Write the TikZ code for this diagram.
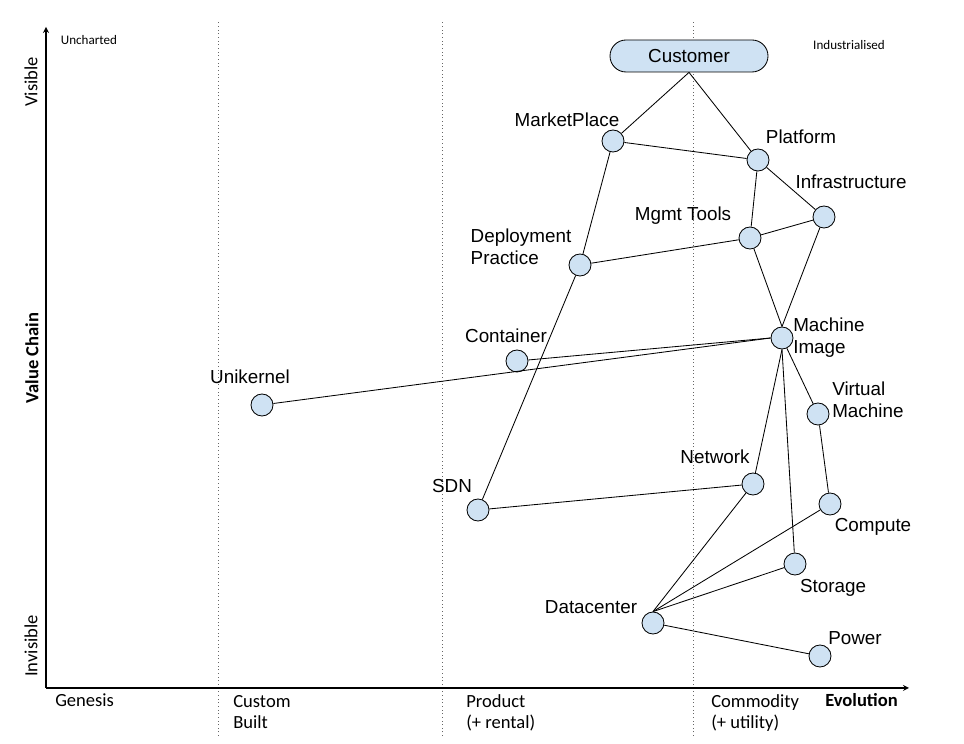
\documentclass[tikz,border=0pt]{standalone}
\usepackage{fontspec}
\setmainfont{Liberation Sans}
\newfontfamily\calfont{Carlito}
\usepackage{xcolor}
\usetikzlibrary{positioning, shapes.misc}
\definecolor{nodeblue}{HTML}{CFE2F3}

\begin{document}
\begin{tikzpicture}[
    >=stealth,
    axis/.style={line width=0.9pt, black},
    stage/.style={dotted, gray!80!black, line width=0.6pt},
    comp/.style={circle, draw, fill=nodeblue, line width=0.6pt,
        minimum size=0.55cm, inner sep=0pt},
    link/.style={line width=0.6pt},
    label/.style={
        font=\fontsize{13.4}{15.6}\selectfont,
        inner sep=0pt
    },
    axislabel/.style={
        font=\calfont\fontsize{13.2}{15.6}\selectfont,
        align=left, inner sep=0pt
    },
    corner/.style={font=\calfont\fontsize{9.3}{11}\selectfont, inner sep=0pt}
]
\useasboundingbox (0,0) rectangle (24.1,18.6);

% Stage boundaries
\draw[stage] (5.45,0.2) -- (5.45,18.05);
\draw[stage] (11.05,0.2) -- (11.05,18.05);
\draw[stage] (17.325,0.2) -- (17.325,18.05);

% Axes
\coordinate (origin) at (1.15,1.4);
\coordinate (ytop) at (1.15,17.925);
\coordinate (xend) at (22.725,1.4);
\draw[axis,->] (origin) -- (ytop);
\draw[axis,->] (origin) -- (xend);

% ---- Axis labels ----
\node[axislabel, rotate=90] (visible) at (0.775,16.55) {Visible};
\node[axislabel, rotate=90] (invisible) at (0.775,2.45) {Invisible};
\node[axislabel, rotate=90, font=\calfont\bfseries\fontsize{13.2}{15.6}\selectfont] (valuechain) at (0.8,9.65) {Value Chain};

\node[axislabel, anchor=base west] (genesis) at (1.375,0.925) {Genesis};
\node[axislabel, anchor=base west] (custom) at (5.825,0.375) {Custom\\Built};
\node[axislabel, anchor=base west] (product) at (11.65,0.375) {Product\\(+ rental)};
\node[axislabel, anchor=base west] (commodity) at (17.775,0.375) {Commodity\\(+ utility)};
\node[axislabel, anchor=base west, font=\calfont\bfseries\fontsize{13.2}{15.6}\selectfont] (evolution) at (20.625,0.925) {Evolution};

\node[corner] (uncharted) at (2.225,17.6) {Uncharted};
\node[corner] (industrialised) at (21.225,17.475) {Industrialised};

% ---- Components ----
\node[rounded rectangle, draw, fill=nodeblue, line width=0.6pt,
    minimum width=3.95cm, minimum height=0.8cm, label] (cust) at (17.225,17.2) {Customer};

\node[comp] (mp) at (15.325,15.075) {};
\node[comp] (pf) at (18.95,14.6) {};
\node[comp] (inf) at (20.6,13.175) {};
\node[comp] (mgmt) at (18.75,12.65) {};
\node[comp] (dep) at (14.5,11.975) {};
\node[comp] (mi) at (19.55,10.15) {};
\node[comp] (cont) at (12.925,9.575) {};
\node[comp] (uni) at (6.55,8.475) {};
\node[comp] (vm) at (20.45,8.25) {};
\node[comp] (net) at (18.825,6.5) {};
\node[comp] (sdn) at (11.95,5.85) {};
\node[comp] (cpu) at (20.75,6.0) {};
\node[comp] (stor) at (19.875,4.5) {};
\node[comp] (dc) at (16.325,3.025) {};
\node[comp] (pow) at (20.5,2.2) {};

% ---- Component labels ----
\node[label] (mpl) at (14.175,15.6) {MarketPlace};
\node[label] (pfl) at (20.025,15.175) {Platform};
\node[label] (infl) at (21.275,14.05) {Infrastructure};
\node[label] (mgmtl) at (17.075,13.2) {Mgmt Tools};
\node[label, align=left] (depl) at (13.025,12.425) {Deployment\\Practice};
\node[label] (contl) at (12.65,10.2) {Container};
\node[label] (unil) at (6.25,9.175) {Unikernel};
\node[label, align=left, anchor=west] (mil) at (19.825,10.15) {Machine\\Image};
\node[label, align=left, anchor=west] (vml) at (20.8,8.6) {Virtual\\Machine};
\node[label] (netl) at (17.875,7.175) {Network};
\node[label] (sdnl) at (11.3,6.45) {SDN};
\node[label] (cpul) at (21.825,5.425) {Compute};
\node[label] (storl) at (20.825,3.9) {Storage};
\node[label] (dcl) at (14.775,3.425) {Datacenter};
\node[label] (powl) at (21.375,2.65) {Power};

% ---- Links ----
\draw[link] (cust.south) -- (mp);
\draw[link] (cust.south) -- (pf);
\draw[link] (mp) -- (pf);
\draw[link] (mp) -- (dep);
\draw[link] (pf) -- (mgmt);
\draw[link] (pf) -- (inf);
\draw[link] (inf) -- (mgmt);
\draw[link] (inf) -- (mi.north);
\draw[link] (mgmt) -- (mi.north);
\draw[link] (dep) -- (mgmt);
\draw[link] (dep) -- (sdn);
\draw[link] (cont) -- (mi.west);
\draw[link] (uni) -- (mi.west);
\draw[link] (mi) -- (vm);
\draw[link] (mi.south) -- (net);
\draw[link] (mi.south) -- (stor);
\draw[link] (vm) -- (cpu);
\draw[link] (sdn) -- (net);
\draw[link] (dc.north) -- (net);
\draw[link] (dc.north) -- (cpu);
\draw[link] (dc.north) -- (stor);
\draw[link] (dc) -- (pow);

\end{tikzpicture}
\end{document}
